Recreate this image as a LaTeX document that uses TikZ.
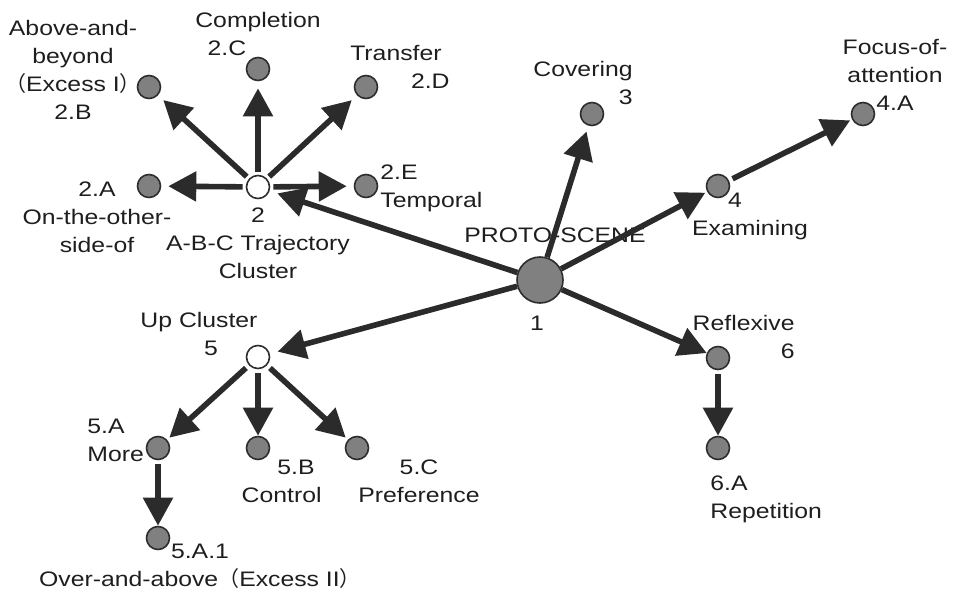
\documentclass[tikz,border=0pt]{standalone}
\usepackage{fontspec}
\setmainfont{Liberation Sans}[FakeStretch=1.18]
\newfontfamily\cjkfont{Noto Sans CJK SC}
\usetikzlibrary{arrows.meta}
\definecolor{senseline}{RGB}{43, 43, 43}
\definecolor{sensegray}{RGB}{128, 128, 128}
\definecolor{senseedge}{RGB}{45, 45, 45}
\definecolor{sensetext}{RGB}{30, 30, 30}

\begin{document}
\begin{tikzpicture}[x=0.5pt, y=-0.5pt,
  sense/.style={circle, draw=senseedge, line width=0.8pt, fill=sensegray, minimum size=11.5pt, inner sep=0pt},
  cluster/.style={sense, fill=white},
  proto/.style={sense, minimum size=23pt},
  sensetxt/.style={inner sep=0pt, text=sensetext, font=\fontsize{10.5}{14}\selectfont},
  link/.style={draw=senseline, line width=2.8pt, -{Triangle[length=14pt, width=14.5pt]}, shorten <=2pt, shorten >=1pt}
]
\useasboundingbox (0,0) rectangle (953,594);

% sense nodes
\node[proto] (n1) at (540,280) {};
\node[cluster] (n2) at (258,187) {};
\node[sense] (n2a) at (149,186) {};
\node[sense] (n2b) at (149,87) {};
\node[sense] (n2c) at (258,69) {};
\node[sense] (n2d) at (366,87) {};
\node[sense] (n2e) at (366,186) {};
\node[sense] (n3) at (592,114) {};
\node[sense] (n4) at (718,186) {};
\node[sense] (n4a) at (863,114) {};
\node[cluster] (n5) at (258,357) {};
\node[sense] (n5a) at (158,448) {};
\node[sense] (n5b) at (258,448) {};
\node[sense] (n5c) at (357,448) {};
\node[sense] (n5a1) at (158,538) {};
\node[sense] (n6) at (718,358) {};
\node[sense] (n6a) at (718,448) {};

% labels
\node[sensetxt, align=center] (t2b) at (73,70) {Above-and-\\beyond\\{\cjkfont （}Excess I{\cjkfont ）}\\2.B};
\node[sensetxt, align=center] (t2c) at (258,34) {Completion\\2.C\hspace*{31pt}};
\node[sensetxt, align=right, anchor=east] (t2d) at (450,67) {Transfer\hspace*{4pt}\\2.D};
\node[sensetxt, align=center] (t2a) at (97,217) {2.A\\On-the-other-\\side-of};
\node[sensetxt, align=left, anchor=west] (t2e) at (380,188) {2.E\\Temporal};
\node[sensetxt, align=center] (t2) at (258,243) {2\\A-B-C Trajectory\\Cluster};
\node[sensetxt, align=right, anchor=east] (t3) at (633,83) {Covering\\3};
\node[sensetxt, align=center] (t4a) at (895,75) {Focus-of-\\attention\\4.A};
\node[sensetxt, align=center] (t4) at (750,216) {4\hspace*{15pt}\\Examining};
\node[sensetxt] (tproto) at (555,235) {PROTO-SCENE};
\node[sensetxt] (t1) at (537,323) {1};
\node[sensetxt, align=center] (t5) at (199,334) {Up Cluster\\\hspace*{12pt}5};
\node[sensetxt, align=left, anchor=west] (t5a) at (87,440) {5.A\\More};
\node[sensetxt, align=right, anchor=east] (t5b) at (322,481) {5.B\hspace*{3.5pt}\\Control};
\node[sensetxt, align=center] (t5c) at (419,481) {5.C\\Preference};
\node[sensetxt, align=center] (t5a1) at (200,566) {5.A.1\\Over-and-above{\cjkfont （}Excess II{\cjkfont ）}};
\node[sensetxt, align=right, anchor=east] (t6) at (795,337) {Reflexive\\6};
\node[sensetxt, align=left, anchor=west] (t6a) at (710,499) {6.A\\Repetition};

% connectors
\draw[link, shorten <=0pt, shorten >=4pt] (n1) -- (n2);
\draw[link, shorten <=0pt, shorten >=3pt] (n1) -- (n3);
\draw[link, shorten <=0pt] (n1) -- (n4);
\draw[link, shorten <=0pt, shorten >=4pt] (n1) -- (n5);
\draw[link, shorten <=0pt, shorten >=0pt] (n1) -- (n6);
\foreach \t in {n2a,n2b,n2c,n2d,n2e}
  \draw[link, shorten <=1.5pt, shorten >=3.5pt] (n2) -- (\t);
\draw[link] (n4) -- (n4a);
\draw[link, shorten >=1.5pt] (n5) -- (n5a);
\draw[link, shorten >=0pt] (n5) -- (n5b);
\draw[link, shorten >=1.5pt] (n5) -- (n5c);
\draw[link, shorten >=0pt] (n5a) -- (n5a1);
\draw[link, shorten >=0pt] (n6) -- (n6a);
\end{tikzpicture}
\end{document}
